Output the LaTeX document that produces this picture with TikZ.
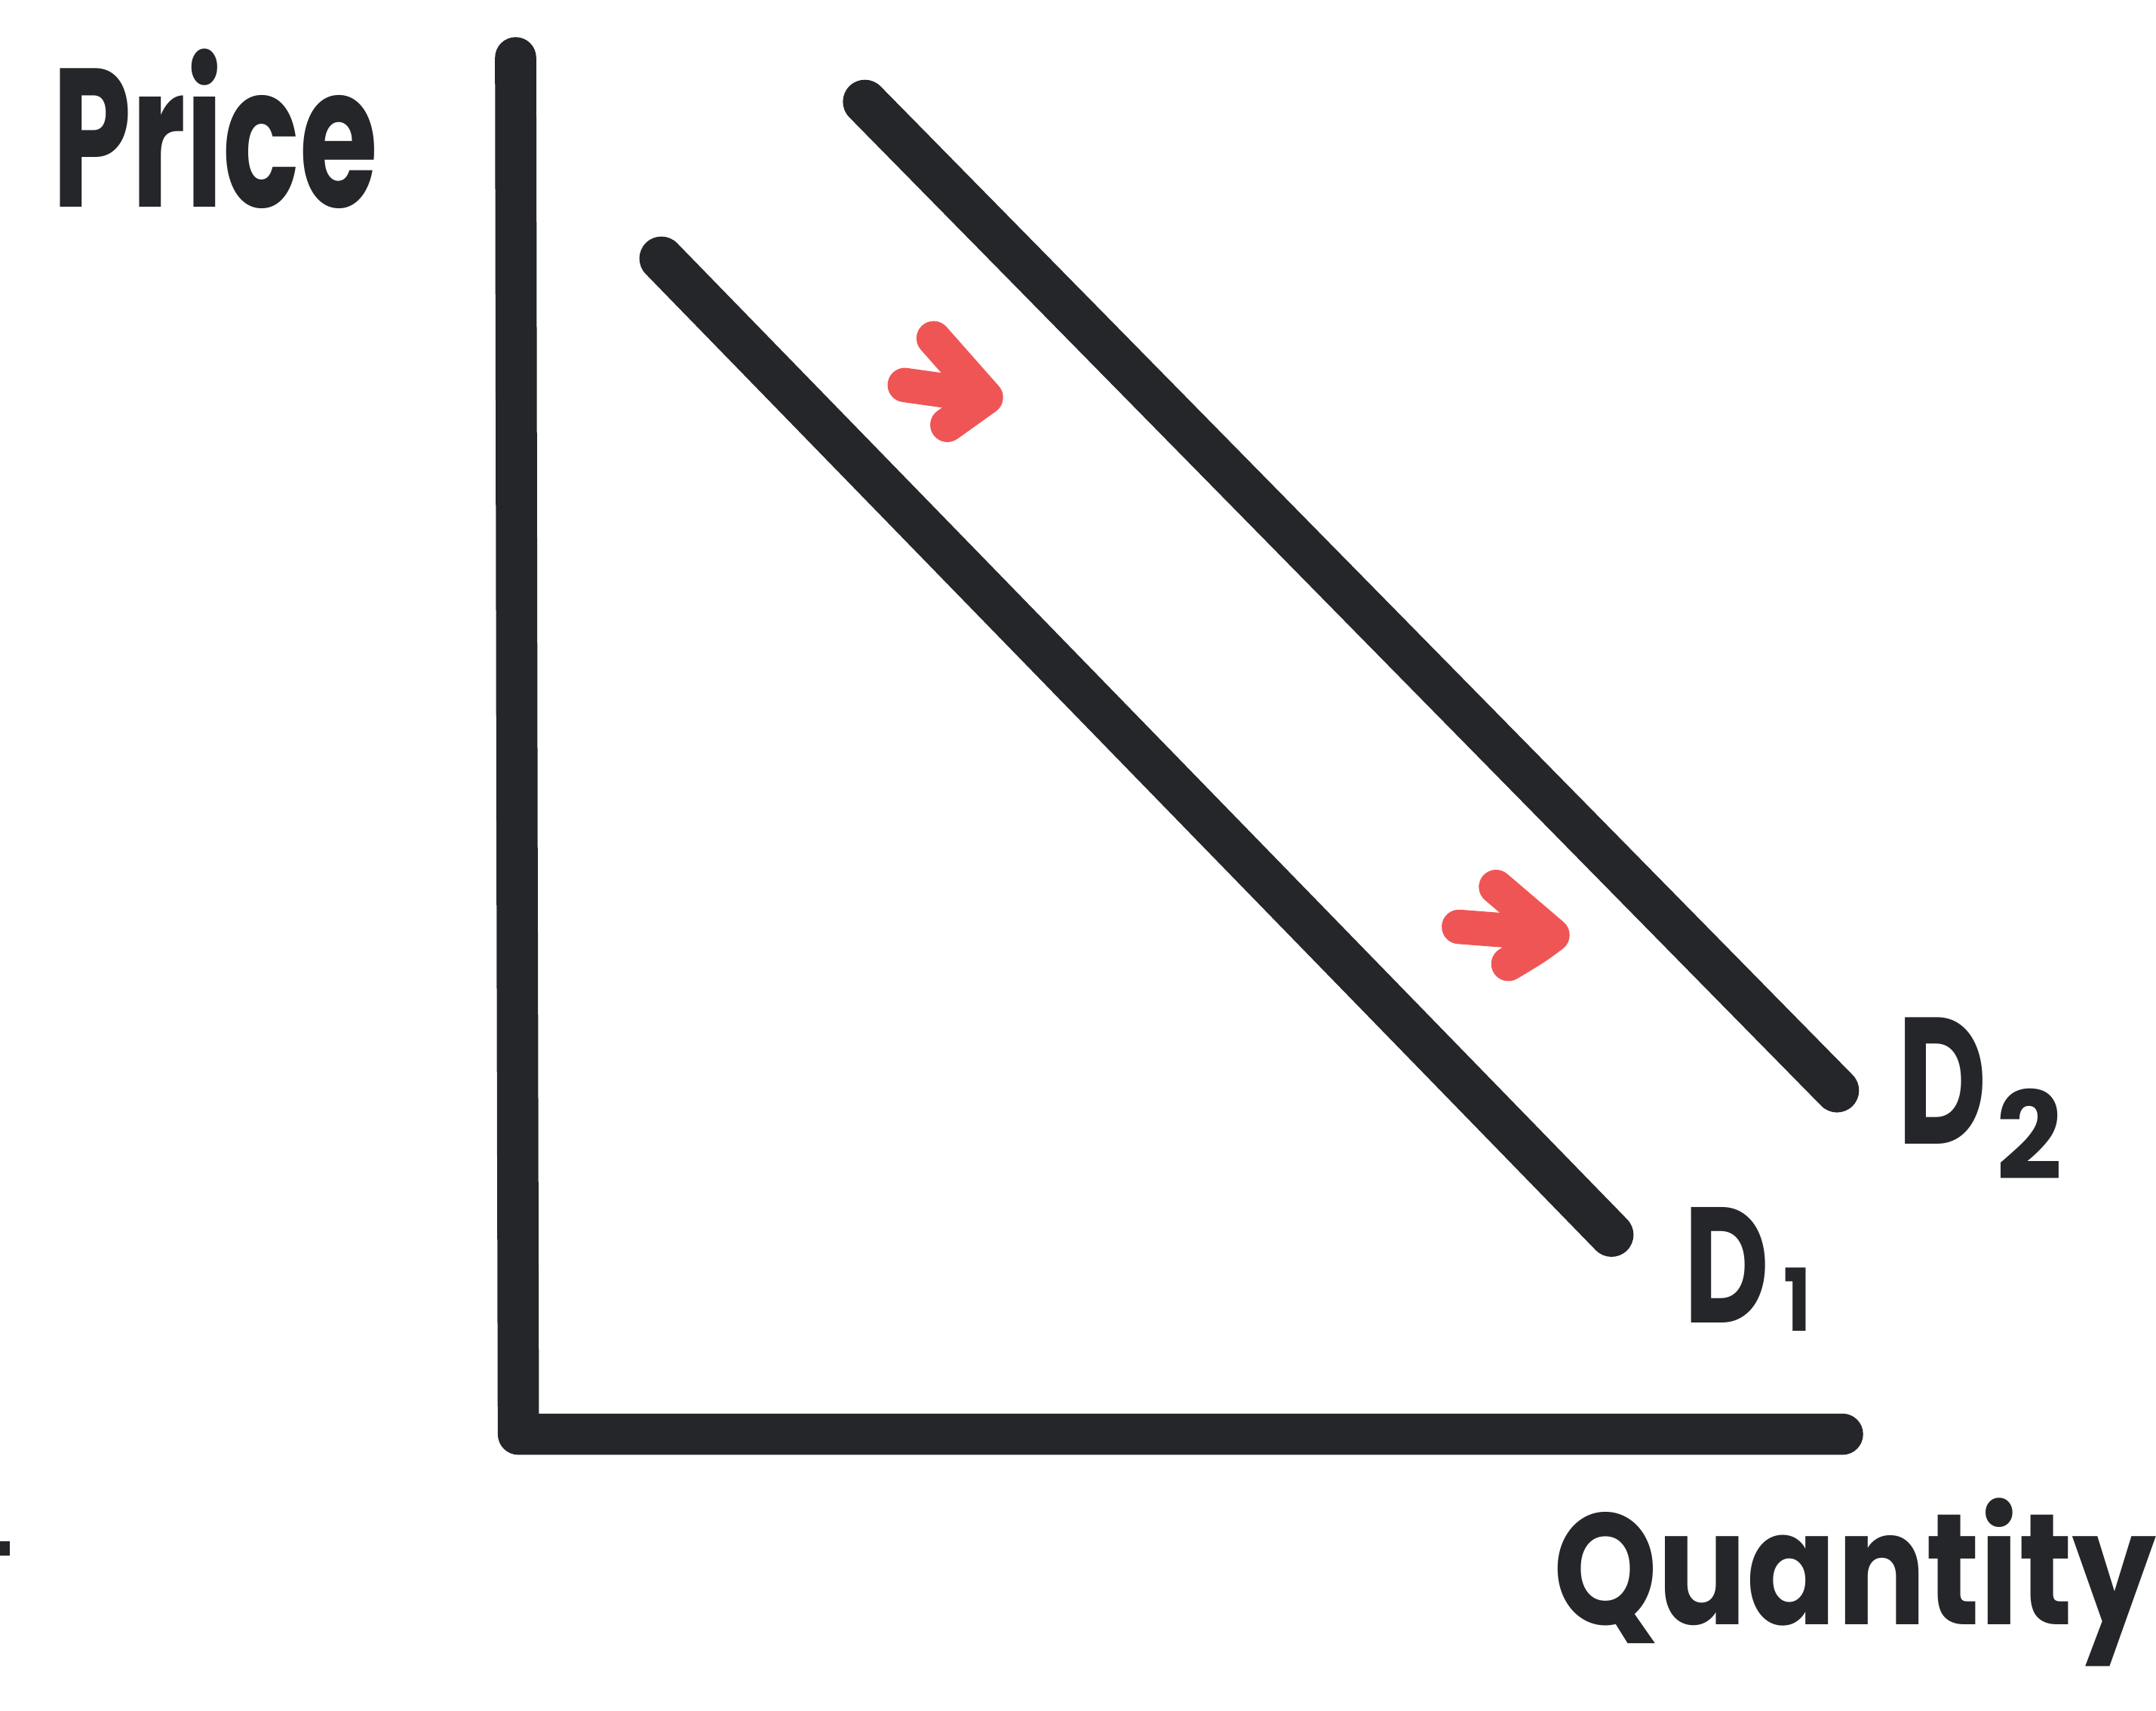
\documentclass[tikz,border=0pt]{standalone}
\usepackage{fontspec}
\setmainfont{Poppins}
\usepackage{graphicx}
\definecolor{ink}{HTML}{25262A}
\definecolor{redink}{HTML}{F05555}
\tikzset{
  axisline/.style={draw=ink, line width=0.6cm, line cap=round, line join=round},
  demand/.style={draw=ink, line width=0.64cm, line cap=round},
  shiftarrow/.style={draw=redink, line width=0.5cm, line cap=round, line join=round},
  hand/.style={inner sep=0pt, outer sep=0pt, text=ink, font=\bfseries},
}
\begin{document}
\begin{tikzpicture}[x=0.02cm, y=-0.02cm]
\useasboundingbox[fill=white] (0,0) rectangle (1568,1244);
% axes
\coordinate (top) at (375,42);
\coordinate (origin) at (377,1043);
\coordinate (right) at (1340,1043);
\draw[axisline] (top) -- (376,600) -- (origin) -- (right);
% demand curves
\coordinate (d1a) at (481,188);
\coordinate (d1b) at (1172,898);
\coordinate (d2a) at (629,74);
\coordinate (d2b) at (1336,793);
\draw[demand] (d1a) -- (d1b);
\draw[demand] (d2a) -- (d2b);
% red shift arrows
\coordinate (a1s) at (658,280);
\coordinate (a1e) at (715,288);
\coordinate (a1t) at (679,246);
\coordinate (a1p) at (717,289);
\coordinate (a1b) at (689,309);
\draw[shiftarrow] (a1s) -- (a1e);
\draw[shiftarrow] (a1t) -- (a1p) -- (a1b);
\coordinate (a2s) at (1061,674);
\coordinate (a2e) at (1126,679);
\coordinate (a2t) at (1088,645);
\coordinate (a2p) at (1129,680);
\coordinate (a2b) at (1097,701);
\draw[shiftarrow] (a2s) -- (a2e);
\draw[shiftarrow] (a2t) -- (a2p) .. controls (1117,689) .. (a2b);
% stray mark
\fill[ink] (0,1121) rectangle (7,1131);
% labels
\node[hand, anchor=south west] (price) at (38,152) {\resizebox{4.74cm}{2.3cm}{Price}};
\node[hand, anchor=south west] (qty) at (1130,1212) {\resizebox{8.76cm}{1.84cm}{Quantity}};
\node[hand, anchor=south west] (D1) at (1225,962) {\resizebox{1.24cm}{1.68cm}{D}};
\node[hand, anchor=south west] (D1s) at (1297,968) {\resizebox{0.4cm}{0.92cm}{1}};
\node[hand, anchor=south west] (D2) at (1380,832) {\resizebox{1.3cm}{1.84cm}{D}};
\node[hand, anchor=south west] (D2s) at (1452,858) {\resizebox{0.96cm}{1.32cm}{2}};
\end{tikzpicture}
\end{document}
